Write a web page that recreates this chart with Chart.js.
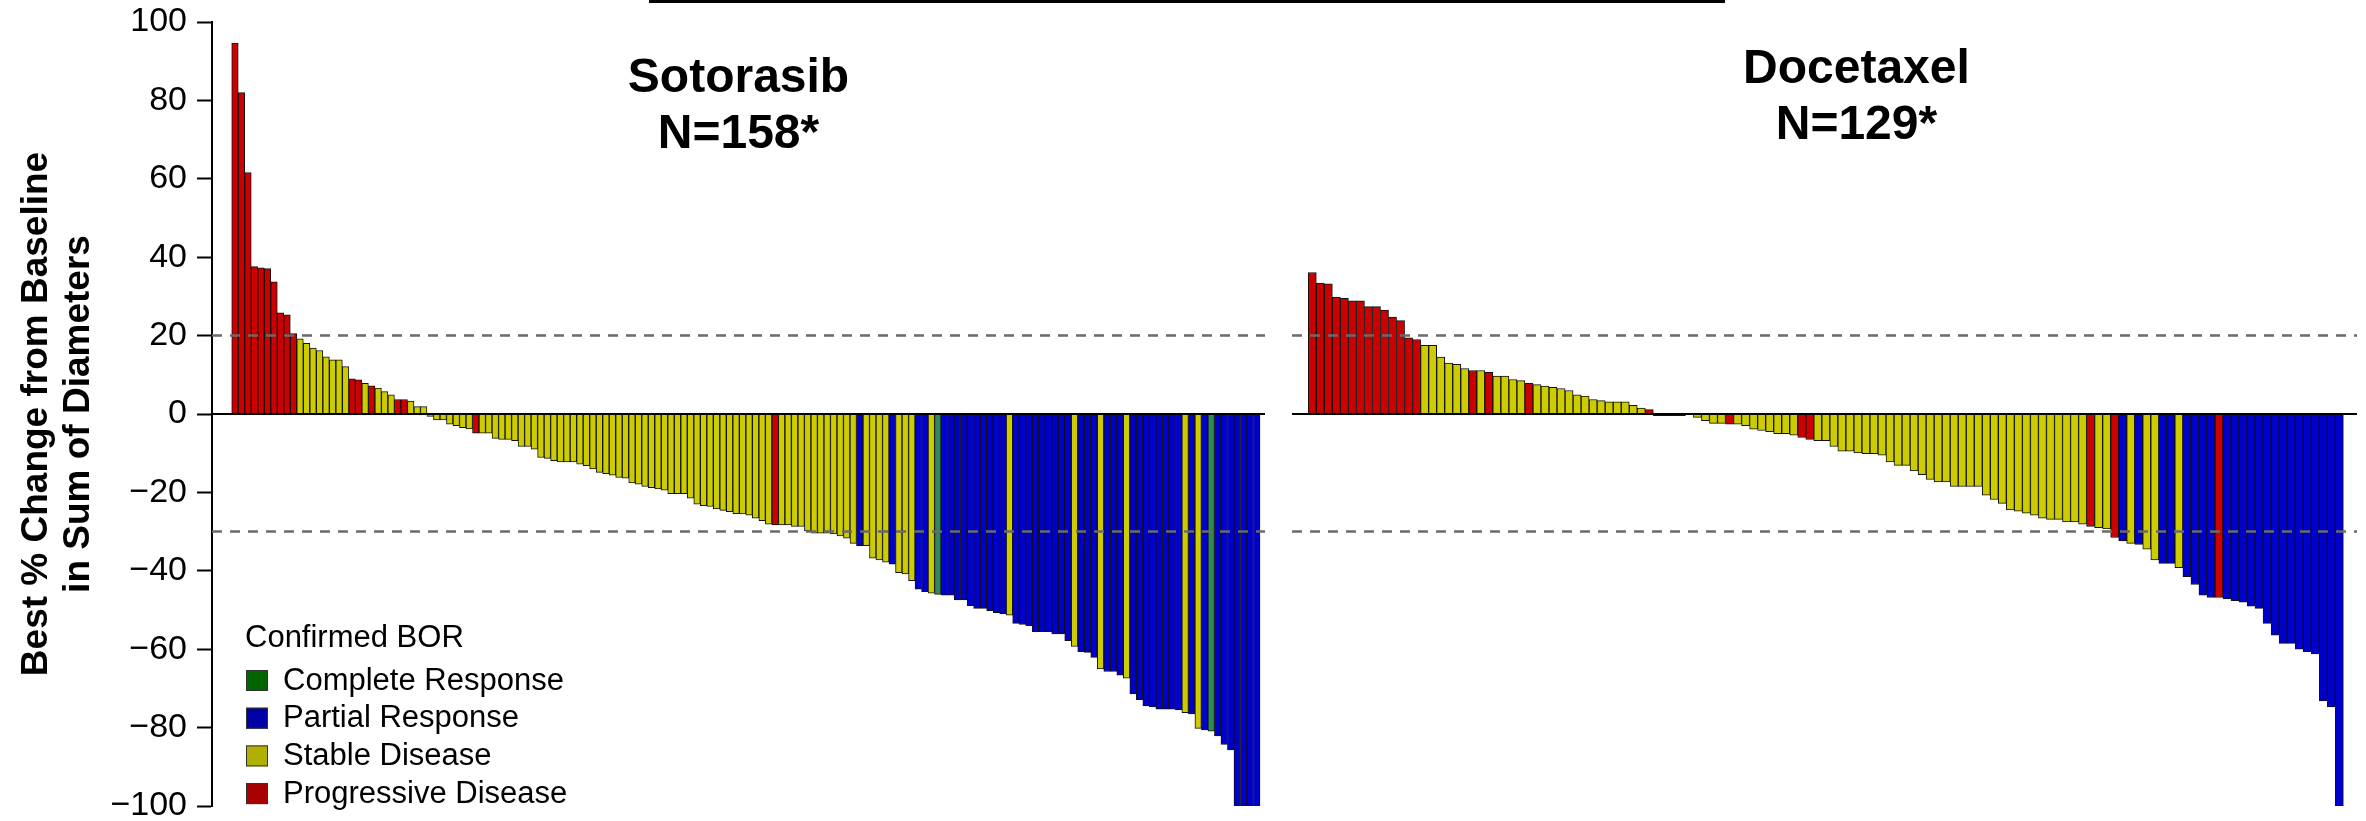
<!DOCTYPE html>
<html>
<head>
<meta charset="utf-8">
<title>Best % Change from Baseline in Sum of Diameters</title>
<script src="https://cdn.jsdelivr.net/npm/chart.js@4.4.1/dist/chart.umd.min.js"></script>
<style>
  html, body { margin: 0; padding: 0; background: #ffffff; }
  #wrap { position: relative; width: 2366px; height: 821px; overflow: hidden; }
  #wrap canvas { position: absolute; left: 0; top: 0; }
</style>
</head>
<body>
<div id="wrap">
  <canvas id="sotorasibChart" width="2366" height="821"></canvas>
  <canvas id="docetaxelChart" width="2366" height="821"></canvas>
</div>
<script>
// Best % change from baseline in sum of diameters, one bar per patient (sorted)
const sotorasibChange = [
  94.6, 82.0, 61.6, 37.6, 37.3, 37.1, 33.7, 25.8, 25.3, 20.5,
  19.2, 18.0, 16.8, 16.2, 14.6, 13.8, 13.8, 12.1, 9.0, 8.7,
  7.8, 7.2, 6.6, 5.7, 4.9, 3.7, 3.7, 3.3, 1.9, 1.9,
  -0.6, -1.5, -1.5, -2.6, -3.0, -3.5, -3.8, -4.9, -4.9, -4.9,
  -6.2, -6.5, -6.5, -6.8, -8.3, -8.3, -9.0, -11.1, -11.3, -11.9,
  -12.2, -12.2, -12.2, -12.8, -13.2, -14.0, -14.9, -15.2, -15.6, -16.2,
  -16.4, -17.6, -17.9, -18.5, -18.8, -19.1, -19.4, -20.3, -20.3, -20.3,
  -21.5, -23.0, -23.4, -23.6, -24.2, -24.6, -24.9, -25.4, -25.5, -25.8,
  -26.6, -27.2, -28.1, -28.3, -28.3, -28.3, -28.7, -28.7, -29.8, -30.4,
  -30.4, -30.4, -30.6, -31.1, -31.7, -33.0, -33.6, -33.6, -36.8, -37.2,
  -37.8, -38.3, -40.5, -40.8, -42.5, -44.7, -45.3, -45.7, -46.0, -46.2,
  -46.2, -47.4, -47.4, -48.9, -49.6, -49.6, -50.2, -50.7, -51.0, -51.3,
  -53.4, -53.7, -54.0, -55.5, -55.5, -55.5, -56.1, -56.1, -57.8, -59.3,
  -60.6, -60.8, -62.1, -65.0, -65.7, -65.7, -66.6, -67.4, -71.4, -72.9,
  -74.5, -74.7, -75.3, -75.3, -75.3, -75.5, -76.2, -76.5, -80.2, -80.6,
  -80.9, -82.1, -84.3, -85.7, -100, -100, -100, -100
];

// Confirmed best overall response for each Sotorasib bar
const sotorasibBOR = [
  'PD','PD','PD','PD','PD','PD','PD','PD','PD','PD',
  'SD','SD','SD','SD','SD','SD','SD','SD','PD','PD',
  'SD','PD','SD','SD','SD','PD','PD','SD','SD','SD',
  'SD','SD','SD','SD','SD','SD','SD','PD','SD','SD',
  'SD','SD','SD','SD','SD','SD','SD','SD','SD','SD',
  'SD','SD','SD','SD','SD','SD','SD','SD','SD','SD',
  'SD','SD','SD','SD','SD','SD','SD','SD','SD','SD',
  'SD','SD','SD','SD','SD','SD','SD','SD','SD','SD',
  'SD','SD','SD','PD','SD','SD','SD','SD','SD','SD',
  'SD','SD','SD','SD','SD','SD','PR','SD','SD','SD',
  'SD','PR','SD','SD','SD','PR','PR','SD','CR','PR',
  'PR','PR','PR','PR','PR','PR','PR','PR','PR','SD',
  'PR','PR','PR','PR','PR','PR','PR','PR','PR','SD',
  'PR','PR','PR','SD','PR','PR','PR','SD','PR','PR',
  'PR','PR','PR','PR','PR','PR','SD','PR','SD','PR',
  'CR','PR','PR','PR','PR','PR','PR','PR'
];

const docetaxelChange = [
  36.1, 33.4, 33.2, 29.8, 29.5, 28.9, 28.9, 27.4, 27.4, 26.5,
  24.7, 23.8, 19.4, 19.0, 17.5, 17.5, 14.5, 13.0, 12.7, 11.6,
  11.1, 11.1, 10.6, 9.7, 9.7, 8.8, 8.5, 7.8, 7.5, 7.1,
  6.8, 6.5, 6.0, 4.9, 4.6, 3.7, 3.4, 3.1, 3.1, 3.1,
  2.2, 1.5, 1.1, -0.4, -0.4, -0.4, -0.4, 0, -0.85, -1.7,
  -2.4, -2.4, -2.6, -2.6, -3.0, -3.9, -4.2, -4.5, -5.0, -5.0,
  -5.4, -6.0, -6.5, -6.8, -6.8, -8.3, -9.5, -9.5, -9.9, -10.1,
  -10.1, -10.5, -12.2, -13.1, -13.1, -14.5, -15.5, -16.7, -17.3, -17.3,
  -18.5, -18.5, -18.5, -18.5, -20.7, -21.8, -22.8, -24.5, -24.8, -25.3,
  -25.8, -26.6, -26.9, -26.9, -27.5, -27.5, -28.1, -28.7, -29.0, -29.3,
  -31.5, -32.4, -33.0, -33.3, -34.5, -37.2, -38.1, -38.1, -39.2, -41.5,
  -43.5, -46.2, -46.8, -46.8, -47.2, -47.6, -48.0, -49.0, -49.6, -53.4,
  -56.4, -58.5, -58.5, -60.0, -60.6, -61.2, -73.2, -74.7, -100
];

const docetaxelBOR = [
  'PD','PD','PD','PD','PD','PD','PD','PD','PD','PD',
  'PD','PD','PD','PD','SD','SD','SD','SD','SD','SD',
  'PD','SD','PD','SD','SD','SD','SD','PD','SD','SD',
  'SD','SD','SD','SD','SD','SD','SD','SD','SD','SD',
  'SD','SD','PD','SD','SD','SD','SD','SD','SD','SD',
  'SD','SD','PD','SD','SD','SD','SD','SD','SD','SD',
  'SD','PD','PD','SD','SD','SD','SD','SD','SD','SD',
  'SD','SD','SD','SD','SD','SD','SD','SD','SD','SD',
  'SD','SD','SD','SD','SD','SD','SD','SD','SD','SD',
  'SD','SD','SD','SD','SD','SD','SD','PD','SD','SD',
  'PD','PR','SD','PR','SD','SD','PR','PR','SD','PR',
  'PR','PR','PR','PD','PR','PR','PR','PR','PR','PR',
  'PR','PR','PR','PR','PR','PR','PR','PR','PR'
];

// Response categories, in legend order
const borCodes = ['CR', 'PR', 'SD', 'PD'];
const borLabels = ['Complete Response', 'Partial Response', 'Stable Disease', 'Progressive Disease'];
const barColors = { CR: '#2E8B57', PR: '#0000CC', SD: '#CCCC00', PD: '#CC0000' };
const legendColors = { CR: '#006400', PR: '#0000A6', SD: '#B0B000', PD: '#A80000' };

// Axis range, ticks and RECIST reference lines (+20% progression, -30% response)
const yMin = -100, yMax = 100, yStep = 20;
const thresholds = [20, -30];

const FONT = '"Liberation Sans", Arial, Helvetica, sans-serif';
Chart.defaults.font.family = FONT;
Chart.defaults.color = '#000000';

function toPoints(values) {
  return values.map((v, i) => ({ x: i + 1, y: v }));
}

// Zero line and dashed threshold lines, drawn over the bars
const refLines = {
  id: 'refLines',
  afterDatasetsDraw(chart) {
    const { ctx, chartArea: a, scales: { y } } = chart;
    ctx.save();
    ctx.strokeStyle = '#6a6a6a';
    ctx.lineWidth = 2.5;
    ctx.setLineDash([10, 8]);
    thresholds.forEach(t => {
      const py = y.getPixelForValue(t);
      ctx.beginPath(); ctx.moveTo(a.left, py); ctx.lineTo(a.right, py); ctx.stroke();
    });
    ctx.setLineDash([]);
    ctx.strokeStyle = '#000000';
    ctx.lineWidth = 2;
    const p0 = y.getPixelForValue(0);
    ctx.beginPath(); ctx.moveTo(a.left, p0); ctx.lineTo(a.right, p0); ctx.stroke();
    ctx.restore();
  }
};

// Two-line bold panel heading
const panelHeading = {
  id: 'panelHeading',
  afterDraw(chart, args, opts) {
    const { ctx, chartArea: a } = chart;
    ctx.save();
    ctx.font = 'bold 48px ' + FONT;
    ctx.fillStyle = '#000000';
    ctx.textAlign = 'center';
    ctx.textBaseline = 'alphabetic';
    const cx = a.left + (a.right - a.left) * opts.centerFrac;
    opts.lines.forEach((line, i) => ctx.fillText(line, cx, opts.firstBaseline + i * 56));
    ctx.restore();
  }
};

// Response legend in the lower left of the Sotorasib panel, plus the rule above the figure
const borLegend = {
  id: 'borLegend',
  afterDraw(chart) {
    const { ctx, chartArea: a } = chart;
    ctx.save();
    ctx.strokeStyle = '#000000';
    ctx.lineWidth = 3;
    ctx.beginPath(); ctx.moveTo(649, 1.5); ctx.lineTo(1725, 1.5); ctx.stroke();

    const lx = a.left + 33;
    const titleY = a.bottom - 168;
    ctx.font = '31px ' + FONT;
    ctx.textAlign = 'left';
    ctx.textBaseline = 'middle';
    ctx.fillStyle = '#000000';
    ctx.fillText('Confirmed BOR', lx, titleY);
    borCodes.forEach((code, i) => {
      const cy = titleY + 42 + i * 37.7;
      ctx.fillStyle = legendColors[code];
      ctx.fillRect(lx + 1, cy - 10, 22, 21);
      ctx.strokeStyle = '#333333';
      ctx.lineWidth = 1;
      ctx.strokeRect(lx + 1.5, cy - 9.5, 21, 20);
      ctx.fillStyle = '#000000';
      ctx.fillText(borLabels[i], lx + 38, cy + 1);
    });
    ctx.restore();
  }
};

function barDataset(values, bor) {
  return {
    data: toPoints(values),
    backgroundColor: bor.map(c => barColors[c]),
    borderColor: '#111111',
    borderWidth: 1,
    borderSkipped: 'start',
    barPercentage: 1.0,
    categoryPercentage: 1.0
  };
}

function baseOptions(xMin, xMax, padding, showY) {
  return {
    responsive: false,
    animation: false,
    events: [],
    layout: { padding },
    plugins: { legend: { display: false }, tooltip: { enabled: false } },
    scales: {
      x: {
        type: 'linear',
        display: false,
        offset: false,
        min: xMin,
        max: xMax,
        ticks: { stepSize: 1000 }
      },
      y: {
        type: 'linear',
        display: showY,
        min: yMin,
        max: yMax,
        afterFit(scale) {
          if (showY) { scale.width = 212; }
          scale.paddingTop = 0;
          scale.paddingBottom = 0;
        },
        ticks: {
          stepSize: yStep,
          padding: 10,
          color: '#000000',
          font: { size: 34, family: FONT },
          callback: v => String(v).replace('-', '\u2212')
        },
        grid: {
          display: true,
          drawOnChartArea: false,
          drawTicks: true,
          tickLength: 15,
          tickColor: '#000000',
          tickWidth: 2
        },
        border: { display: true, color: '#000000', width: 2 },
        title: {
          display: showY,
          text: ['Best % Change from Baseline', 'in Sum of Diameters'],
          color: '#000000',
          font: { size: 37, weight: 'bold', family: FONT, lineHeight: 1.127 },
          padding: { top: 16, bottom: 0 }
        }
      }
    }
  };
}

// Sotorasib panel (carries the y axis and the legend)
const leftOptions = baseOptions(-2.53, 159.27, { left: 0, right: 1101, top: 22, bottom: 15 }, true);
leftOptions.plugins.panelHeading = { lines: ['Sotorasib', 'N=158*'], centerFrac: 0.5, firstBaseline: 92 };
new Chart(document.getElementById('sotorasibChart'), {
  type: 'bar',
  data: { datasets: [barDataset(sotorasibChange, sotorasibBOR)] },
  options: leftOptions,
  plugins: [refLines, panelHeading, borLegend]
});

// Docetaxel panel
const rightOptions = baseOptions(-1.53, 131.2, { left: 1292, right: 9, top: 22, bottom: 15 }, false);
rightOptions.plugins.panelHeading = { lines: ['Docetaxel', 'N=129*'], centerFrac: 0.53, firstBaseline: 83 };
new Chart(document.getElementById('docetaxelChart'), {
  type: 'bar',
  data: { datasets: [barDataset(docetaxelChange, docetaxelBOR)] },
  options: rightOptions,
  plugins: [refLines, panelHeading]
});
</script>
</body>
</html>
